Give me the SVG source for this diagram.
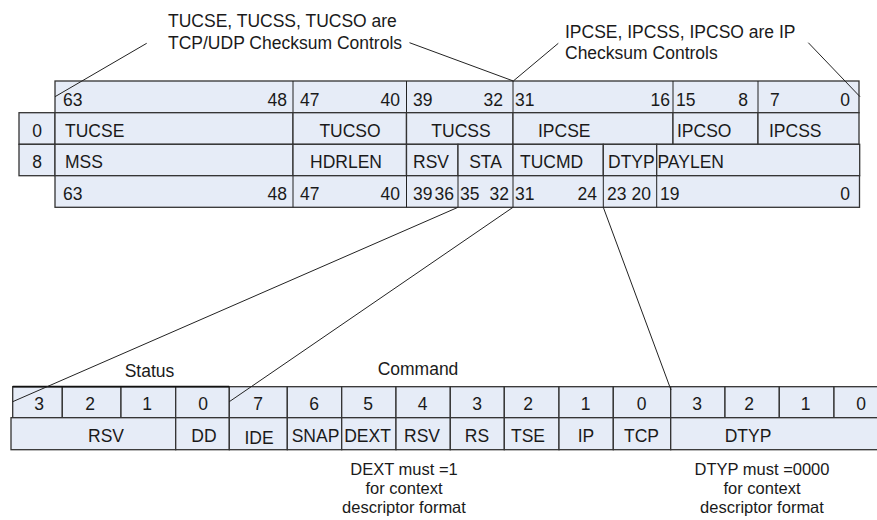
<svg xmlns="http://www.w3.org/2000/svg" width="877" height="520" viewBox="0 0 877 520">
<style>
.c{fill:#e6ecf7;stroke:#333;stroke-width:1.3}
.t{font-family:"Liberation Sans",Arial,sans-serif;font-size:17.5px;fill:#1a1a1a}
.f{font-size:16.5px}
.m{text-anchor:middle}
.e{text-anchor:end}
.ln{stroke:#222;stroke-width:1;fill:none}
</style>
<rect width="877" height="520" fill="#fff"/>
<g id="notes">
<text class="t" x="168" y="27">TUCSE, TUCSS, TUCSO are</text>
<text class="t" x="168" y="49">TCP/UDP Checksum Controls</text>
<text class="t" x="565" y="38">IPCSE, IPCSS, IPCSO are IP</text>
<text class="t" x="565" y="59">Checksum Controls</text>
</g>
<g id="top-bits">
<rect class="c" x="55" y="81" width="804" height="31.7"/>
<path class="ln" d="M293 81V112.7M406.5 81V112.7M513 81V112.7M673 81V112.7M758 81V112.7" stroke="#333"/>
<text class="t" x="63" y="106">63</text><text class="t e" x="287" y="106">48</text>
<text class="t" x="300" y="106">47</text><text class="t e" x="400" y="106">40</text>
<text class="t" x="413" y="106">39</text><text class="t e" x="503" y="106">32</text>
<text class="t" x="515" y="106">31</text><text class="t e" x="670" y="106">16</text>
<text class="t" x="676" y="106">15</text><text class="t e" x="748" y="106">8</text>
<text class="t" x="770" y="106">7</text><text class="t e" x="850" y="106">0</text>
</g>
<g id="row0">
<rect class="c" x="19" y="112.7" width="36" height="31.6"/>
<text class="t m" x="37" y="137">0</text>
<rect class="c" x="55" y="112.7" width="238" height="31.6"/><text class="t" x="65" y="137">TUCSE</text>
<rect class="c" x="293" y="112.7" width="113.5" height="31.6"/><text class="t m" x="350" y="137">TUCSO</text>
<rect class="c" x="406.5" y="112.7" width="106.5" height="31.6"/><text class="t m" x="461" y="137">TUCSS</text>
<rect class="c" x="513" y="112.7" width="160" height="31.6"/><text class="t" x="538" y="137">IPCSE</text>
<rect class="c" x="673" y="112.7" width="85" height="31.6"/><text class="t" x="677" y="137">IPCSO</text>
<rect class="c" x="758" y="112.7" width="101" height="31.6"/><text class="t" x="769" y="137">IPCSS</text>
</g>
<g id="row8">
<rect class="c" x="19" y="144.3" width="36" height="31.4"/>
<text class="t m" x="37" y="168">8</text>
<rect class="c" x="55" y="144.3" width="238" height="31.4"/><text class="t" x="65" y="168">MSS</text>
<rect class="c" x="293" y="144.3" width="113.5" height="31.4"/><text class="t m" x="346" y="168">HDRLEN</text>
<rect class="c" x="406.5" y="144.3" width="51.5" height="31.4"/><text class="t" x="413" y="168">RSV</text>
<rect class="c" x="458" y="144.3" width="55" height="31.4"/><text class="t m" x="485.5" y="168">STA</text>
<rect class="c" x="513" y="144.3" width="90.3" height="31.4"/><text class="t" x="520" y="168">TUCMD</text>
<rect class="c" x="603.3" y="144.3" width="53.4" height="31.4"/><text class="t" x="608" y="168">DTYP</text>
<rect class="c" x="656.7" y="144.3" width="203" height="31.4"/><text class="t" x="657.5" y="168">PAYLEN</text>
</g>
<g id="bottom-bits">
<rect class="c" x="55" y="175.7" width="804.5" height="31.6"/>
<path class="ln" d="M293 175.7V207.3M406.5 175.7V207.3M458 175.7V207.3M513 175.7V207.3M603.3 175.7V207.3M656.7 175.7V207.3" stroke="#333"/>
<text class="t" x="63" y="199.5">63</text><text class="t e" x="287" y="199.5">48</text>
<text class="t" x="300" y="199.5">47</text><text class="t e" x="400" y="199.5">40</text>
<text class="t" x="413" y="199.5">39</text><text class="t e" x="454" y="199.5">36</text>
<text class="t" x="460" y="199.5">35</text><text class="t e" x="509" y="199.5">32</text>
<text class="t" x="515" y="199.5">31</text><text class="t e" x="597" y="199.5">24</text>
<text class="t" x="607" y="199.5">23</text><text class="t e" x="651" y="199.5">20</text>
<text class="t" x="660" y="199.5">19</text><text class="t e" x="850" y="199.5">0</text>
</g>
<g id="labels">
<text class="t m" x="149.5" y="377">Status</text>
<text class="t m" x="418" y="375">Command</text>
</g>
<g id="status-cmd-bits">
<rect class="c" x="12.7" y="386.7" width="49.6" height="31"/><text class="t m" x="39" y="410">3</text>
<rect class="c" x="62.3" y="386.7" width="58.7" height="31"/><text class="t m" x="90" y="410">2</text>
<rect class="c" x="121" y="386.7" width="54.7" height="31"/><text class="t m" x="147" y="410">1</text>
<rect class="c" x="175.7" y="386.7" width="53.6" height="31"/><text class="t m" x="203" y="410">0</text>
<rect class="c" x="229.3" y="386.7" width="58" height="31"/><text class="t m" x="258" y="410">7</text>
<rect class="c" x="287.3" y="386.7" width="54.4" height="31"/><text class="t m" x="314" y="410">6</text>
<rect class="c" x="341.7" y="386.7" width="54.3" height="31"/><text class="t m" x="368" y="410">5</text>
<rect class="c" x="396" y="386.7" width="54.3" height="31"/><text class="t m" x="422.5" y="410">4</text>
<rect class="c" x="450.3" y="386.7" width="54" height="31"/><text class="t m" x="477" y="410">3</text>
<rect class="c" x="504.3" y="386.7" width="54.7" height="31"/><text class="t m" x="528" y="410">2</text>
<rect class="c" x="559" y="386.7" width="54.3" height="31"/><text class="t m" x="585.5" y="410">1</text>
<rect class="c" x="613.3" y="386.7" width="57.4" height="31"/><text class="t m" x="641.5" y="410">0</text>
<rect class="c" x="670.7" y="386.7" width="54.3" height="31"/><text class="t m" x="697" y="410">3</text>
<rect class="c" x="725" y="386.7" width="54.3" height="31"/><text class="t m" x="749" y="410">2</text>
<rect class="c" x="779.3" y="386.7" width="54.7" height="31"/><text class="t m" x="805.5" y="410">1</text>
<rect class="c" x="834" y="386.7" width="60" height="31"/><text class="t m" x="861" y="410">0</text>
<path d="M12.7 386.7H229.3" stroke="#111" stroke-width="1.8"/>
</g>
<g id="status-cmd-fields">
<rect class="c" x="11" y="417.7" width="164.7" height="32"/><text class="t m" x="106" y="442">RSV</text>
<rect class="c" x="175.7" y="417.7" width="53.6" height="32"/><text class="t m" x="204" y="442">DD</text>
<rect class="c" x="229.3" y="417.7" width="58" height="32"/><text class="t m" x="259" y="444">IDE</text>
<rect class="c" x="287.3" y="417.7" width="54.4" height="32"/><text class="t m" x="315.5" y="442">SNAP</text>
<rect class="c" x="341.7" y="417.7" width="54.3" height="32"/><text class="t m" x="367.5" y="442">DEXT</text>
<rect class="c" x="396" y="417.7" width="54.3" height="32"/><text class="t m" x="422" y="442">RSV</text>
<rect class="c" x="450.3" y="417.7" width="54" height="32"/><text class="t m" x="477" y="442">RS</text>
<rect class="c" x="504.3" y="417.7" width="54.7" height="32"/><text class="t m" x="528" y="442">TSE</text>
<rect class="c" x="559" y="417.7" width="54.3" height="32"/><text class="t m" x="586" y="442">IP</text>
<rect class="c" x="613.3" y="417.7" width="57.4" height="32"/><text class="t m" x="641.5" y="442">TCP</text>
<rect class="c" x="670.7" y="417.7" width="223" height="32"/><text class="t m" x="748" y="442">DTYP</text>
</g>
<g id="footnotes">
<text class="t f m" x="404" y="475">DEXT must =1</text>
<text class="t f m" x="404" y="494">for context</text>
<text class="t f m" x="404" y="513">descriptor format</text>
<text class="t f m" x="762" y="475">DTYP must =0000</text>
<text class="t f m" x="762" y="494">for context</text>
<text class="t f m" x="762" y="513">descriptor format</text>
</g>
<g id="connectors">
<path class="ln" d="M146.7 43.3L55 96.7"/>
<path class="ln" d="M409.5 42.7L513.3 81"/>
<path class="ln" d="M558.3 43.3L513.3 81"/>
<path class="ln" d="M808.3 42.7L860 96.7"/>
<path class="ln" d="M458 207.3L12.7 401.7"/>
<path class="ln" d="M513 207.3L229.3 401.7"/>
<path class="ln" d="M603.3 207.3L671 390"/>
</g>
</svg>
